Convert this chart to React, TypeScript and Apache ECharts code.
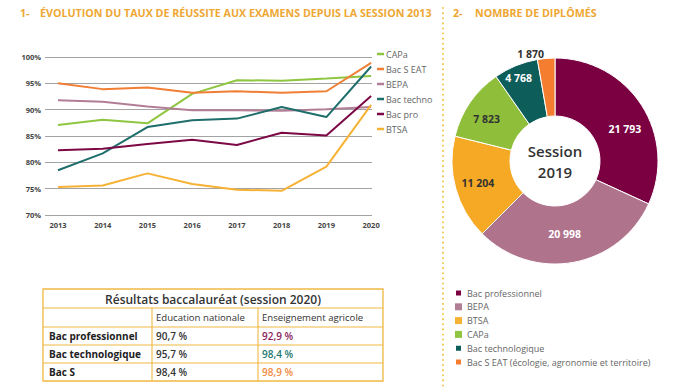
import React, { useEffect, useRef } from "react";
import * as echarts from "echarts";

const years = [2013, 2014, 2015, 2016, 2017, 2018, 2019, 2020];
const lineNames = ["CAPa", "Bac S EAT", "BEPA", "Bac techno", "Bac pro", "BTSA"];
const capa = [87.1, 88.1, 87.4, 93.0, 95.6, 95.5, 95.9, 96.4];
const bacSEat = [95.0, 93.9, 94.2, 93.2, 93.5, 93.2, 93.5, 98.9];
const bepa = [91.8, 91.5, 90.6, 89.9, 89.9, 89.8, 90.1, 90.5];
const bacTechno = [78.5, 81.7, 86.7, 88.0, 88.3, 90.5, 88.6, 98.2];
const bacPro = [82.3, 82.6, 83.5, 84.3, 83.3, 85.6, 85.1, 92.6];
const btsa = [75.3, 75.6, 77.9, 75.9, 74.8, 74.6, 79.2, 90.9];
const lineValues = [capa, bacSEat, bepa, bacTechno, bacPro, btsa];
const lineColors = ["#8fc641", "#f07f35", "#b27e96", "#1e6e6b", "#7d0846", "#f6b234"];

const pieNames = [
  "Bac professionnel",
  "BEPA",
  "BTSA",
  "CAPa",
  "Bac technologique",
  "Bac S EAT (écologie, agronomie et territoire)",
];
const pieValues = [21793, 20998, 11204, 7823, 4768, 1870];
const pieColors = ["#7a0042", "#b0738c", "#f6a924", "#8fbf3a", "#0d5d5a", "#f47d30"];
const pieLabelColors = ["#ffffff", "#ffffff", "#333333", "#333333", "#ffffff", "#333333"];

const title1Num = "1-";
const title1 = "ÉVOLUTION DU TAUX DE RÉUSSITE AUX EXAMENS DEPUIS LA SESSION 2013";
const title2Num = "2-";
const title2 = "NOMBRE DE DIPLÔMÉS";
const centerLine1 = "Session";
const centerLine2 = "2019";

const tableTitle = "Résultats baccalauréat (session 2020)";
const tableHeaders = ["Education nationale", "Enseignement agricole"];
const tableRows = ["Bac professionnel", "Bac technologique", "Bac S"];
const tableEN = ["90,7 %", "95,7 %", "98,4 %"];
const tableEA = ["92,9 %", "98,4 %", "98,9 %"];
const tableEAColors = ["#8a1d5c", "#1c7a70", "#f28a3f"];

const FONT = "'Open Sans', sans-serif";
const GOLD = "#eea733";
const BORDER = "#f0b843";

const fmt = (v: number) => String(v).replace(/\B(?=(\d{3})+(?!\d))/g, " ");

// small nudges of the pie value labels (pixels)
const pieLabelOffsets = [[5, 10], [-4, -3], [-3, 1], [-5, 2], [-7, -12], [3, -1]];

export default function App() {
  const ref = useRef<HTMLDivElement>(null);
  useEffect(() => {
    if (!ref.current) return;
    const chart = echarts.init(ref.current, undefined, { renderer: "svg" });

    const tx0 = 43, tx1 = 383, ty0 = 289, ty1 = 381;
    const rowsY = [289, 308, 327, 345, 363, 381];
    const colX = [152, 258];
    const graphics: any[] = [];
    graphics.push({
      type: "rect",
      shape: { x: tx0, y: ty0, width: tx1 - tx0, height: ty1 - ty0 },
      style: { fill: "#fff", stroke: BORDER, lineWidth: 1.3 },
    });
    for (let i = 1; i < rowsY.length - 1; i++) {
      graphics.push({
        type: "line",
        shape: { x1: tx0, y1: rowsY[i], x2: tx1, y2: rowsY[i] },
        style: { stroke: BORDER, lineWidth: 1.1 },
      });
    }
    colX.forEach((x) =>
      graphics.push({
        type: "line",
        shape: { x1: x, y1: rowsY[1], x2: x, y2: ty1 },
        style: { stroke: BORDER, lineWidth: 1.1 },
      })
    );
    graphics.push({
      type: "text",
      x: (tx0 + tx1) / 2,
      y: (rowsY[0] + rowsY[1]) / 2 + 0.5,
      style: { text: tableTitle, font: `600 12px ${FONT}`, fill: "#333", align: "center", verticalAlign: "middle" },
    });
    tableHeaders.forEach((h, i) =>
      graphics.push({
        type: "text",
        x: colX[i] + 4,
        y: (rowsY[1] + rowsY[2]) / 2,
        style: { text: h, font: `500 9.6px ${FONT}`, fill: "#333", verticalAlign: "middle" },
      })
    );
    tableRows.forEach((r, i) => {
      const yc = (rowsY[i + 2] + rowsY[i + 3]) / 2;
      graphics.push({
        type: "text",
        x: tx0 + 6,
        y: yc,
        style: { text: r, font: `bold 10px ${FONT}`, fill: "#222", verticalAlign: "middle" },
      });
      graphics.push({
        type: "text",
        x: colX[0] + 4,
        y: yc,
        style: { text: tableEN[i], font: `600 10px ${FONT}`, fill: "#333", verticalAlign: "middle" },
      });
      graphics.push({
        type: "text",
        x: colX[1] + 4,
        y: yc,
        style: { text: tableEA[i], font: `600 10px ${FONT}`, fill: tableEAColors[i], verticalAlign: "middle" },
      });
    });
    graphics.push(
      { type: "text", x: 20, y: 13, style: { text: title1Num, font: `bold 10.7px ${FONT}`, fill: GOLD, verticalAlign: "middle" } },
      { type: "text", x: 40, y: 13, style: { text: title1, font: `bold 10.7px ${FONT}`, fill: GOLD, verticalAlign: "middle" } },
      { type: "text", x: 453, y: 13, style: { text: title2Num, font: `bold 10.7px ${FONT}`, fill: GOLD, verticalAlign: "middle" } },
      { type: "text", x: 475, y: 13, style: { text: title2, font: `bold 10.7px ${FONT}`, fill: GOLD, verticalAlign: "middle" } }
    );
    graphics.push({
      type: "line",
      shape: { x1: 443, y1: 8, x2: 443, y2: 388 },
      style: { stroke: "#f2c54a", lineWidth: 2, lineDash: [0.1, 5], lineCap: "round" },
    });
    graphics.push(
      {
        type: "text",
        x: 555,
        y: 151,
        z: 10,
        style: { text: centerLine1, font: `600 15px ${FONT}`, fill: "#333", align: "center", verticalAlign: "middle" },
      },
      {
        type: "text",
        x: 555,
        y: 172,
        z: 10,
        style: { text: centerLine2, font: `600 15px ${FONT}`, fill: "#333", align: "center", verticalAlign: "middle" },
      }
    );

    chart.setOption({
      animation: false,
      backgroundColor: "#fff",
      textStyle: { fontFamily: FONT },
      grid: { left: 45, right: 307, top: 57, bottom: 173 },
      legend: [
        {
          data: lineNames,
          orient: "vertical",
          left: 377,
          top: 49,
          padding: 0,
          itemWidth: 7,
          itemHeight: 2.5,
          itemGap: 5,
          icon: "rect",
          textStyle: { fontSize: 9, lineHeight: 10, color: "#666", padding: [0, 0, 0, -3] },
        },
        {
          data: pieNames,
          orient: "vertical",
          left: 454,
          top: 288,
          padding: 0,
          itemWidth: 7,
          itemHeight: 7,
          itemGap: 3.8,
          icon: "rect",
          textStyle: { fontSize: 9, lineHeight: 10, color: "#666" },
        },
      ],
      xAxis: {
        type: "value",
        min: 2012.71,
        max: 2020.02,
        axisLine: { show: false },
        axisTick: { show: false },
        splitLine: { show: false },
        axisLabel: {
          customValues: years,
          formatter: (v: number) => String(v),
          fontSize: 7.5,
          fontWeight: "bold",
          color: "#444",
          margin: 6,
        },
      },
      yAxis: {
        type: "value",
        min: 70,
        max: 100,
        interval: 5,
        axisLine: { show: false },
        axisTick: { show: false },
        splitLine: { lineStyle: { color: "#a3a3a3", width: 1 } },
        axisLabel: {
          formatter: "{value}%",
          fontSize: 7.5,
          fontWeight: "bold",
          color: "#444",
          margin: 4,
        },
      },
      graphic: graphics,
      series: [
        ...lineNames.map((n, i) => ({
          name: n,
          type: "line",
          data: years.map((y, j) => [y, lineValues[i][j]]),
          showSymbol: false,
          symbol: "none",
          lineStyle: { color: lineColors[i], width: 2 },
          itemStyle: { color: lineColors[i] },
        })),
        {
          type: "pie",
          center: [555, 161],
          radius: [45, 103],
          startAngle: 90,
          clockwise: true,
          itemStyle: { borderColor: "#fff", borderWidth: 1 },
          label: {
            position: "inside",
            formatter: (p: any) => fmt(p.value),
            fontSize: 10.5,
            fontWeight: "bold",
          },
          labelLine: { show: false },
          data: pieNames.map((n, i) => ({
            name: n,
            value: pieValues[i],
            itemStyle: { color: pieColors[i] },
            label:
              i === pieNames.length - 1
                ? { position: "outside", color: pieLabelColors[i], offset: pieLabelOffsets[i] }
                : { color: pieLabelColors[i], offset: pieLabelOffsets[i] },
            labelLine: i === pieNames.length - 1 ? { show: false, length: 3, length2: 0 } : { show: false },
          })),
        },
      ],
    });
    return () => chart.dispose();
  }, []);
  return (
    <div
      ref={ref}
      style={{ position: "absolute", left: 0, top: 0, width: 679, height: 388, background: "#fff" }}
    />
  );
}
